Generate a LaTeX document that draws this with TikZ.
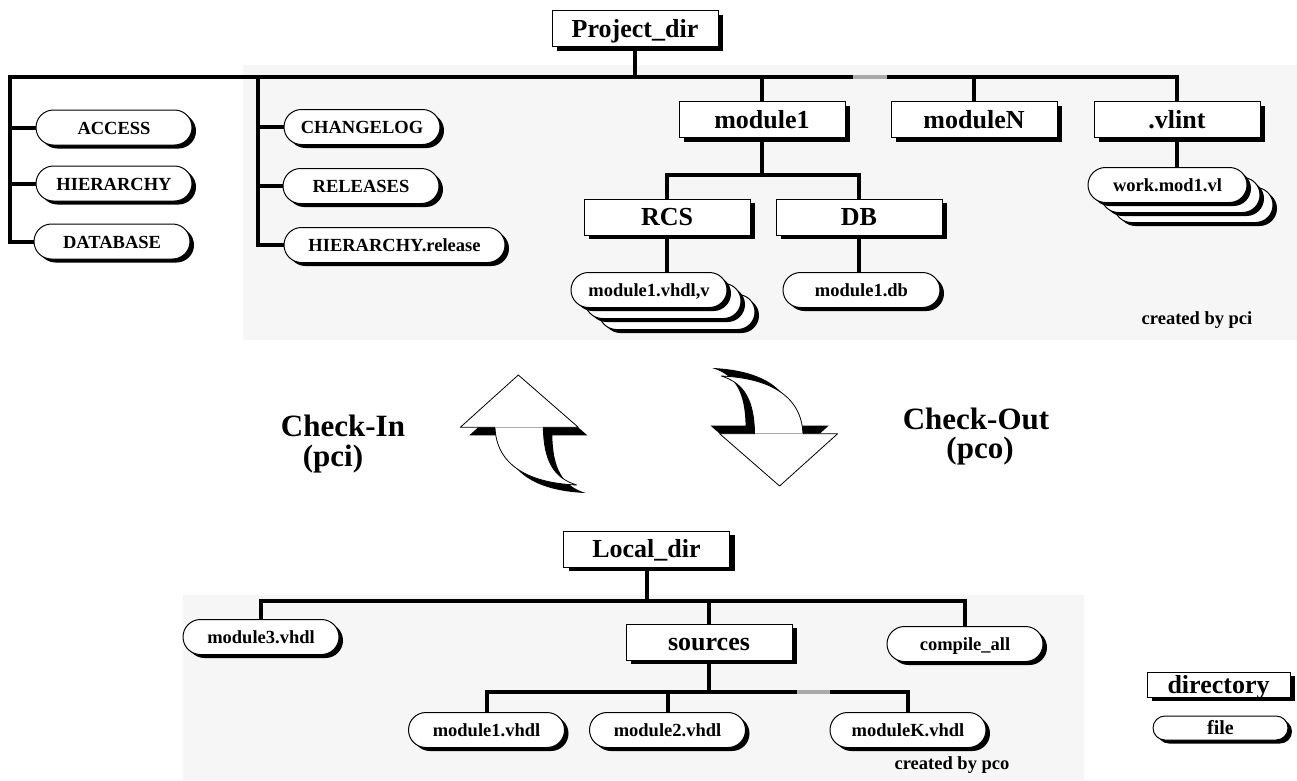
\documentclass[tikz,border=0pt]{standalone}
\usepackage{fontspec}
\setmainfont{Liberation Serif}
\usetikzlibrary{shapes.misc,shadows}
\definecolor{panelgray}{HTML}{F6F6F6}
\definecolor{gapgray}{HTML}{AAAAAA}
\pgfdeclarelayer{panel}
\pgfdeclarelayer{links}
\pgfsetlayers{panel,links,main}

\begin{document}
\begin{tikzpicture}[x=1pt,y=-1pt,
    dirbox/.style={draw,line width=1pt,fill=white,inner sep=0pt,minimum width=166pt,minimum height=36pt,
      font=\fontsize{26}{28}\selectfont\bfseries,text height=20pt,text depth=3pt,
      drop shadow={shadow xshift=5pt,shadow yshift=-4pt,fill=black,opacity=1}},
    filepill/.style={rounded rectangle,draw,line width=1pt,fill=white,inner sep=0pt,minimum width=156pt,minimum height=35pt,
      font=\fontsize{18.5}{20}\selectfont\bfseries,text height=14.5pt,text depth=1.5pt,
      drop shadow={shadow xshift=4pt,shadow yshift=-3.5pt,fill=black,opacity=1}},
    link/.style={line width=4pt,line cap=rect},
    gapseg/.style={line width=4pt,gapgray},
    checktext/.style={font=\fontsize{31}{33}\selectfont\bfseries},
    note/.style={font=\fontsize{18.5}{20}\selectfont\bfseries},
    pics/checkarrow/.style={code={
      \begin{scope}[shift={(9,8)}]
        \fill[black] (0,0) -- (60,52.3) -- (25,52.3) .. controls (25.5,85) and (35,103) .. (58.4,110)
          .. controls (10,108) and (-22,90) .. (-23.3,52.3) -- (-58,52.3) -- cycle;
      \end{scope}
      \draw[fill=white,line width=0.8pt,line join=round] (0,0) -- (60,52.3) -- (25,52.3) .. controls (25.5,85) and (35,103) .. (58.4,110)
          .. controls (10,108) and (-22,90) .. (-23.3,52.3) -- (-58,52.3) -- cycle;
      \draw[gapgray,line width=0.6pt] (-23.3,52.3) -- (25,52.3);
    }}]
\useasboundingbox (0,0) rectangle (1297,780);

\begin{pgfonlayer}{panel}
  \fill[panelgray] (243,65) rectangle (1297,340);
  \fill[panelgray] (183,595) rectangle (1084,780);
\end{pgfonlayer}

% project directory
\node[dirbox] (proj) at (635,28.5) {Project\_dir};
\node[filepill] (access) at (114,127.5) {ACCESS};
\node[filepill] (hier) at (114,183.5) {HIERARCHY};
\node[filepill] (database) at (112,241.5) {DATABASE};
\node[filepill] (changelog) at (362,127) {CHANGELOG};
\node[filepill] (releases) at (361,186) {RELEASES};
\node[filepill,minimum width=221pt] (hierrel) at (394.5,245) {HIERARCHY.release};
\node[dirbox] (mod1) at (762,119.5) {module1};
\node[dirbox] (modN) at (974,119.5) {moduleN};
\node[dirbox] (vlint) at (1177,119.5) {.vlint};
\node[dirbox] (rcs) at (667,217) {RCS};
\node[dirbox] (db) at (859,217) {DB};
\node[filepill] (mod1vC) at (677,312) {};
\node[filepill] (mod1vB) at (663,301) {};
\node[filepill] (mod1v) at (649,290) {module1.vhdl,v};
\node[filepill,minimum width=157pt] (mod1db) at (861.5,290) {module1.db};
\node[filepill,minimum width=159pt] (workC) at (1193.5,205) {};
\node[filepill,minimum width=159pt] (workB) at (1180.5,195) {};
\node[filepill,minimum width=159pt] (work) at (1167.5,185) {work.mod1.vl};
\node[note] (bypci) at (1197,320) {created by pci};

% check-in / check-out
\pic at (518.3,375) {checkarrow};
\pic[rotate=180] at (779.6,486) {checkarrow};
\node[checktext] (cin) at (343,426) {Check-In};
\node[checktext] (pci) at (333,459) {(pci)};
\node[checktext] (cout) at (976,419) {Check-Out};
\node[checktext] (pco) at (980,451) {(pco)};

% local directory
\node[dirbox] (local) at (646.5,549) {Local\_dir};
\node[filepill] (mod3) at (261,637) {module3.vhdl};
\node[dirbox] (sources) at (709,642) {sources};
\node[filepill] (compile) at (965,644) {compile\_all};
\node[filepill] (m1vhdl) at (486.5,730) {module1.vhdl};
\node[filepill] (m2vhdl) at (667.5,730) {module2.vhdl};
\node[filepill] (mKvhdl) at (908,730) {moduleK.vhdl};
\node[note] (bypco) at (952,765) {created by pco};

% legend
\node[dirbox,minimum width=143pt,minimum height=25pt,text height=19pt,text depth=2pt] (legdir) at (1218.5,684.5) {directory};
\node[filepill,minimum width=135pt,minimum height=24pt,font=\fontsize{20}{22}\selectfont\bfseries,text height=15pt,text depth=1.5pt] (legfile) at (1220.5,728) {file};

\begin{pgfonlayer}{links}
  \coordinate (topL) at (10,77);
  \coordinate (topM) at (258,77);
  \coordinate (topR) at (1177,77);
  \draw[link] (topL) -- (topR);
  \draw[link] (proj) -- (proj |- topL);
  \draw[link] (topL) -- (topL |- database);
  \foreach \f in {access,hier,database}
    \draw[link] (topL |- \f) -- (\f);
  \draw[link] (topM) -- (topM |- hierrel);
  \foreach \f in {changelog,releases,hierrel}
    \draw[link] (topM |- \f) -- (\f);
  \foreach \d in {mod1,modN,vlint}
    \draw[link] (\d |- topL) -- (\d);
  \coordinate (mjoin) at (762,175);
  \draw[link] (mod1) -- (mjoin);
  \draw[link] (rcs) |- (mjoin) -| (db);
  \draw[link] (rcs) -- (rcs |- mod1v.north);
  \draw[link] (db) -- (db |- mod1db.north);
  \draw[link] (vlint) -- (vlint |- work.north);
  \draw[gapseg] (853,77) -- (887,77);

  \coordinate (botbar) at (646.5,601);
  \draw[link] (local) -- (botbar);
  \draw[link] (mod3) |- (botbar) -| (compile);
  \draw[link] (sources) -- (sources |- botbar);
  \coordinate (subbar) at (709,692);
  \draw[link] (sources) -- (subbar);
  \draw[link] (m1vhdl) |- (subbar) -| (mKvhdl);
  \draw[link] (m2vhdl) -- (m2vhdl |- subbar);
  \draw[gapseg] (797,692) -- (830,692);
\end{pgfonlayer}
\end{tikzpicture}
\end{document}
